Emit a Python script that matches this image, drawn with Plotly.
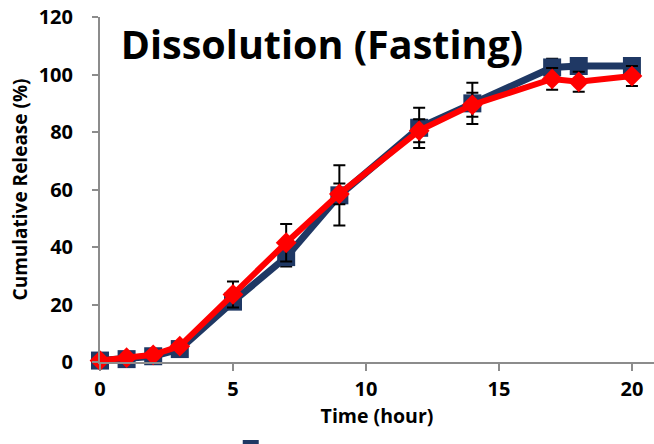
import plotly.graph_objects as go

time_h = [0, 1, 2, 3, 5, 7, 9, 12, 14, 17, 18, 20]

series_a = [0.5, 1.0, 2.0, 4.5, 21.0, 36.5, 58.0, 81.5, 90.0, 102.5, 103.0, 103.0]
series_a_err = [0, 0, 0, 0, 2.0, 3.3, 10.5, 7.0, 7.2, 3.0, 0, 0]

series_b = [0.5, 1.5, 2.5, 5.5, 23.5, 41.5, 58.5, 80.5, 89.5, 98.5, 97.5, 99.5]
series_b_err = [0, 0, 0, 0, 4.5, 6.5, 3.6, 4.0, 4.2, 3.8, 3.5, 3.5]

x_ticks = [0, 5, 10, 15, 20]
y_ticks = [0, 20, 40, 60, 80, 100, 120]

FONT = "Open Sans"
AXIS_GREY = "#8C8C8C"

fig = go.Figure()
fig.add_trace(go.Scatter(
    x=time_h, y=series_a, name=" ", mode="lines+markers",
    line=dict(color="#1F3864", width=7),
    marker=dict(symbol="square", size=18, color="#1F3864"),
    error_y=dict(type="data", array=series_a_err, visible=True,
                 color="black", thickness=2, width=6),
    cliponaxis=False, showlegend=True,
))
fig.add_trace(go.Scatter(
    x=time_h, y=series_b, name=" ", mode="lines+markers",
    line=dict(color="#FF0000", width=6),
    marker=dict(symbol="diamond", size=16, color="#FF0000"),
    error_y=dict(type="data", array=series_b_err, visible=True,
                 color="black", thickness=2, width=6),
    cliponaxis=False, showlegend=False,
))

fig.update_layout(
    width=654, height=444,
    margin=dict(l=100, r=0, t=17, b=82, autoexpand=False),
    paper_bgcolor="white", plot_bgcolor="white",
    font=dict(family=FONT, color="black"),
    title=dict(text="Dissolution (Fasting)", xref="paper", x=0.4007, xanchor="center",
               yref="container", y=1 - 45 / 444, yanchor="middle",
               font=dict(family=FONT, size=39.5, color="black", weight="bold")),
    showlegend=True,
    legend=dict(orientation="h", x=0.236, y=-0.2, xanchor="left", yanchor="top",
                font=dict(size=16, family=FONT)),
    xaxis=dict(range=[0, 20.83], tickvals=x_ticks, showgrid=False, zeroline=False,
               showline=True, linecolor=AXIS_GREY, linewidth=2,
               ticks="outside", ticklen=7, tickwidth=2, tickcolor=AXIS_GREY,
               tickfont=dict(size=20, family=FONT, weight="bold"), ticklabelstandoff=1,
               title=dict(text="Time (hour)", font=dict(size=19.5, family=FONT, weight="bold"),
                          standoff=1)),
    yaxis=dict(range=[0, 120.05], tickvals=y_ticks, showgrid=False, zeroline=False,
               showline=True, linecolor=AXIS_GREY, linewidth=2,
               ticks="outside", ticklen=6, tickwidth=2, tickcolor=AXIS_GREY,
               tickfont=dict(size=20, family=FONT, weight="bold"), ticklabelstandoff=15,
               ticklabeloverflow="allow",
               title=dict(text="Cumulative Release (%)", font=dict(size=19, family=FONT, weight="bold"),
                          standoff=6)),
)

fig.write_html("out.html", config={"displayModeBar": False},
               post_script="document.body.style.margin='0';document.body.style.overflow='hidden';")
